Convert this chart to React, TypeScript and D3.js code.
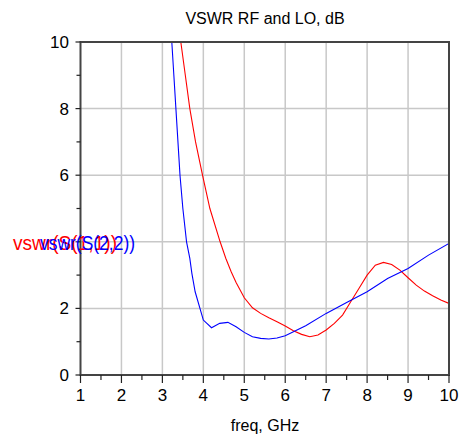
import React from "react";
import * as d3 from "d3";

const title = "VSWR RF and LO, dB";
const xLabel = "freq, GHz";
const xTicks = [1, 2, 3, 4, 5, 6, 7, 8, 9, 10];
const yTickLabels = [0, 2, 4, 6, 8, 10];
const seriesNames = ["vswr(S(1,1))", "vswr(S(2,2))"];

const redFreq = [3.45, 3.56, 3.67, 3.81, 3.98, 4.16, 4.41, 4.55, 4.68, 4.8, 5.0, 5.2, 5.4, 5.6, 5.8, 6.0, 6.2, 6.4, 6.6, 6.8, 7.0, 7.2, 7.4, 7.6, 7.8, 8.0, 8.2, 8.4, 8.6, 8.8, 9.0, 9.2, 9.4, 9.6, 9.8, 10];
const redVswr = [10, 9, 8, 7, 6, 5, 4, 3.5, 3.1, 2.78, 2.32, 2.02, 1.85, 1.72, 1.6, 1.47, 1.33, 1.22, 1.15, 1.2, 1.35, 1.55, 1.8, 2.2, 2.6, 3.0, 3.3, 3.38, 3.32, 3.15, 2.92, 2.7, 2.52, 2.38, 2.25, 2.15];

const blueFreq = [3.23, 3.28, 3.33, 3.38, 3.43, 3.5, 3.59, 3.67, 3.72, 3.8, 4.0, 4.2, 4.4, 4.6, 4.8, 5.0, 5.2, 5.4, 5.6, 5.8, 6.0, 6.2, 6.5, 7.0, 7.5, 8.0, 8.5, 9.0, 9.5, 10];
const blueVswr = [10, 9, 8, 7, 6, 5, 4, 3.5, 3.05, 2.5, 1.65, 1.42, 1.55, 1.58, 1.45, 1.28, 1.15, 1.1, 1.08, 1.11, 1.18, 1.3, 1.48, 1.85, 2.18, 2.5, 2.9, 3.2, 3.6, 3.95];

export default function App() {
  const W = 464, H = 442;
  const L = 80.5, R = 449, T = 42, B = 375;
  const x = d3.scaleLinear().domain([1, 10]).range([L, R]);
  const y = d3.scaleLinear().domain([0, 10]).range([B, T]);
  const line = d3.line<[number, number]>().x((d) => x(d[0])).y((d) => y(d[1]));
  const red = redFreq.map((f, i) => [f, redVswr[i]] as [number, number]);
  const blue = blueFreq.map((f, i) => [f, blueVswr[i]] as [number, number]);
  const font = "'Liberation Sans', Arial, sans-serif";
  const xMinor = d3.range(1.5, 10, 1);
  const yMinor = [1, 3, 5, 7, 9];
  const gridY = [2, 4, 6, 8];
  return (
    <svg width={W} height={H} style={{ position: "absolute", left: 0, top: 0 }} fontFamily={font}>
      <rect width={W} height={H} fill="#fff" />
      <text x={265} y={24} fontSize={16} textAnchor="middle" fill="#000">{title}</text>
      {xTicks.slice(1, -1).map((t) => (
        <line key={"gx" + t} x1={x(t)} x2={x(t)} y1={T} y2={B} stroke="#c8c8c8" strokeWidth={1.5} />
      ))}
      {gridY.map((t) => (
        <line key={"gy" + t} x1={L} x2={R} y1={y(t)} y2={y(t)} stroke="#c8c8c8" strokeWidth={1.5} />
      ))}
      <defs>
        <clipPath id="clip">
          <rect x={L} y={T} width={R - L} height={B - T} />
        </clipPath>
      </defs>
      <g clipPath="url(#clip)" fill="none" strokeWidth={1.1}>
        <path d={line(red) || ""} stroke="#ff0000" />
        <path d={line(blue) || ""} stroke="#0000ff" />
      </g>
      <rect x={L} y={T} width={R - L} height={B - T} fill="none" stroke="#444" strokeWidth={2} />
      {xTicks.map((t) => (
        <g key={"xt" + t}>
          <line x1={x(t)} x2={x(t)} y1={B} y2={B + 8} stroke="#222" strokeWidth={1.2} />
          <text x={x(t)} y={401} fontSize={17} textAnchor="middle" fill="#000">{t}</text>
        </g>
      ))}
      {xMinor.map((t) => (
        <line key={"xm" + t} x1={x(t)} x2={x(t)} y1={B} y2={B + 5} stroke="#222" strokeWidth={1.2} />
      ))}
      {yTickLabels.map((t) => (
        <g key={"yt" + t}>
          <line x1={L - 5} x2={L} y1={y(t)} y2={y(t)} stroke="#222" strokeWidth={1.2} />
          {t !== 4 && (
            <text x={69} y={y(t)} dy="0.35em" fontSize={17} textAnchor="end" fill="#000">{t}</text>
          )}
        </g>
      ))}
      {yMinor.map((t) => (
        <line key={"ym" + t} x1={L - 4} x2={L} y1={y(t)} y2={y(t)} stroke="#222" strokeWidth={1.2} />
      ))}
      <text x={13} y={250} fontSize={20} fill="#ff0000" textLength={104} lengthAdjust="spacingAndGlyphs">{seriesNames[0]}</text>
      <text x={40} y={250} fontSize={20} fill="#0000ff" textLength={95} lengthAdjust="spacingAndGlyphs">{seriesNames[1]}</text>
      <text x={265} y={431} fontSize={16} textAnchor="middle" fill="#000">{xLabel}</text>
    </svg>
  );
}
